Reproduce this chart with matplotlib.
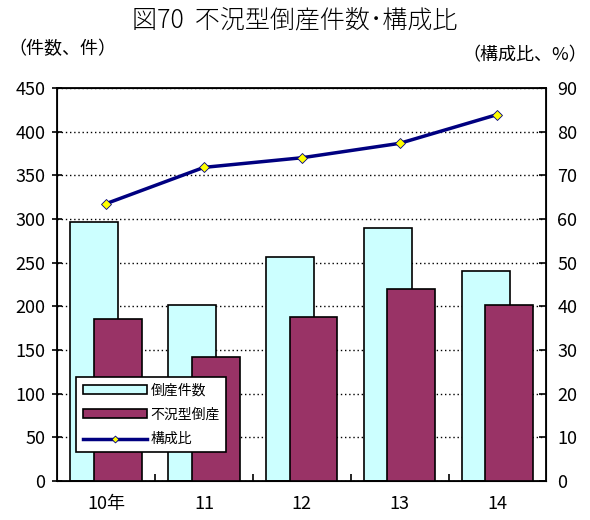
import numpy as np
import matplotlib
matplotlib.use('Agg')
from matplotlib import pyplot as plt

plt.rcParams['font.family'] = ['Noto Sans CJK JP', 'DejaVu Sans']

years = ['10年', '11', '12', '13', '14']
bankruptcies = [296, 202, 256, 290, 240]
recession_type = [186, 142, 188, 220, 202]
share_pct = [63.5, 71.8, 74.0, 77.3, 83.9]

x = np.arange(len(years))

fig = plt.figure(figsize=(5.9, 5.2), dpi=100)
ax = fig.add_axes([0.097, 0.075, 0.829, 0.756])

ax.bar(x - 0.12, bankruptcies, width=0.49, color='#CCFFFF', edgecolor='black',
       linewidth=1.2, label='倒産件数', zorder=2)
ax.bar(x + 0.12, recession_type, width=0.49, color='#993366', edgecolor='black',
       linewidth=1.2, label='不況型倒産', zorder=3)

ax.set_xlim(-0.5, len(years) - 0.5)
ax.set_ylim(0, 450)
ax.set_yticks(np.arange(0, 451, 50))
ax.yaxis.grid(True, linestyle=(0, (1, 2)), color='black', linewidth=1.0)
ax.set_axisbelow(True)
ax.set_xticks(x)
ax.set_xticklabels(years)
ax.set_xticks(np.arange(0.5, len(years) - 0.5, 1), minor=True)
ax.tick_params(axis='x', which='major', length=0, pad=10, labelsize=13)
ax.tick_params(axis='x', which='minor', direction='in', length=5, width=1.2)
ax.tick_params(axis='y', direction='inout', length=7, width=1.2, labelsize=13, pad=5)
for s in ax.spines.values():
    s.set_linewidth(1.3)

ax2 = ax.twinx()
ax2.plot(x, share_pct, color='#000080', linewidth=2.5, marker='D', markersize=5,
         markerfacecolor='#FFFF00', markeredgecolor='#000080', markeredgewidth=0.6,
         label='構成比', zorder=4)
ax2.set_ylim(0, 90)
ax2.set_yticks(np.arange(0, 91, 10))
ax2.tick_params(axis='y', direction='in', length=5, width=1.2, labelsize=13, pad=8)

h1, l1 = ax.get_legend_handles_labels()
h2, l2 = ax2.get_legend_handles_labels()
leg = ax2.legend(h1 + h2, l1 + l2, loc='lower left', bbox_to_anchor=(0.025, 0.055),
                 fontsize=10, frameon=True, fancybox=False, edgecolor='black',
                 framealpha=1, handlelength=4.6, handleheight=0.6, numpoints=1,
                 markerscale=0.7, borderpad=0.45, labelspacing=0.75,
                 handletextpad=0.3)
leg.get_frame().set_linewidth(1.2)

fig.text(0.5, 0.962, '図70  不況型倒産件数･構成比', ha='center', va='center',
         fontsize=18, fontweight='light')
fig.text(0.015, 0.905, '（件数、件）', ha='left', va='center', fontsize=13)
fig.text(0.995, 0.893, '（構成比、%）', ha='right', va='center', fontsize=13)

fig.savefig('out.png', dpi=100)
